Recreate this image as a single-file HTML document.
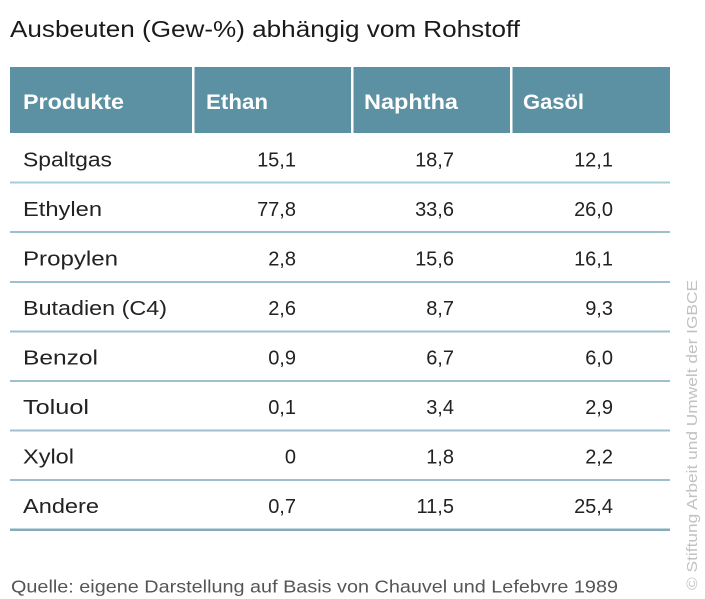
<!DOCTYPE html>
<html>
<head>
<meta charset="utf-8">
<style>
  html,body{margin:0;padding:0;background:#fff;}
  svg{display:block;}
  text{font-family:"Liberation Sans", sans-serif;}
</style>
</head>
<body>
<svg width="705" height="599" viewBox="0 0 705 599" xmlns="http://www.w3.org/2000/svg">
  <rect x="0" y="0" width="705" height="599" fill="#ffffff"/>
  <!-- Title -->
  <text x="10" y="37" font-size="23.5" fill="#1a1a1a" textLength="510" lengthAdjust="spacingAndGlyphs">Ausbeuten (Gew-%) abhängig vom Rohstoff</text>

  <!-- Header -->
  <rect x="10" y="67" width="660" height="66" fill="#5b91a3"/>
  <rect x="192" y="67" width="2.5" height="66" fill="#ffffff"/>
  <rect x="351" y="67" width="2.5" height="66" fill="#ffffff"/>
  <rect x="510" y="67" width="2.5" height="66" fill="#ffffff"/>
  <g font-size="21" font-weight="bold" fill="#ffffff">
    <text x="23" y="109" textLength="101" lengthAdjust="spacingAndGlyphs">Produkte</text>
    <text x="206" y="109" textLength="62" lengthAdjust="spacingAndGlyphs">Ethan</text>
    <text x="364" y="109" textLength="94" lengthAdjust="spacingAndGlyphs">Naphtha</text>
    <text x="523" y="109" textLength="61" lengthAdjust="spacingAndGlyphs">Gasöl</text>
  </g>

  <!-- Row lines -->
  <g fill="#9cc0cd">
    <rect x="10" y="181.5" width="660" height="2" fill="#a9cedb"/>
    <rect x="10" y="231" width="660" height="2"/>
    <rect x="10" y="281" width="660" height="2"/>
    <rect x="10" y="330.5" width="660" height="2"/>
    <rect x="10" y="380" width="660" height="2"/>
    <rect x="10" y="429.5" width="660" height="2"/>
    <rect x="10" y="479" width="660" height="2"/>
    <rect x="10" y="528.5" width="660" height="2.5" fill="#86acbb"/>
  </g>

  <!-- Labels -->
  <g font-size="20" fill="#222222">
    <text x="23" y="166.5" textLength="89" lengthAdjust="spacingAndGlyphs">Spaltgas</text>
    <text x="23" y="216" textLength="79" lengthAdjust="spacingAndGlyphs">Ethylen</text>
    <text x="23" y="265.5" textLength="95" lengthAdjust="spacingAndGlyphs">Propylen</text>
    <text x="23" y="315" textLength="144" lengthAdjust="spacingAndGlyphs">Butadien (C4)</text>
    <text x="23" y="364.5" textLength="75" lengthAdjust="spacingAndGlyphs">Benzol</text>
    <text x="23" y="414" textLength="66" lengthAdjust="spacingAndGlyphs">Toluol</text>
    <text x="23" y="463.5" textLength="51" lengthAdjust="spacingAndGlyphs">Xylol</text>
    <text x="23" y="513" textLength="76" lengthAdjust="spacingAndGlyphs">Andere</text>
  </g>

  <!-- Ethan -->
  <g font-size="20" fill="#222222" text-anchor="end">
    <text x="296" y="166.5">15,1</text>
    <text x="296" y="216">77,8</text>
    <text x="296" y="265.5">2,8</text>
    <text x="296" y="315">2,6</text>
    <text x="296" y="364.5">0,9</text>
    <text x="296" y="414">0,1</text>
    <text x="296" y="463.5">0</text>
    <text x="296" y="513">0,7</text>
  </g>
  <!-- Naphtha -->
  <g font-size="20" fill="#222222" text-anchor="end">
    <text x="454" y="166.5">18,7</text>
    <text x="454" y="216">33,6</text>
    <text x="454" y="265.5">15,6</text>
    <text x="454" y="315">8,7</text>
    <text x="454" y="364.5">6,7</text>
    <text x="454" y="414">3,4</text>
    <text x="454" y="463.5">1,8</text>
    <text x="454" y="513">11,5</text>
  </g>
  <!-- Gasöl -->
  <g font-size="20" fill="#222222" text-anchor="end">
    <text x="613" y="166.5">12,1</text>
    <text x="613" y="216">26,0</text>
    <text x="613" y="265.5">16,1</text>
    <text x="613" y="315">9,3</text>
    <text x="613" y="364.5">6,0</text>
    <text x="613" y="414">2,9</text>
    <text x="613" y="463.5">2,2</text>
    <text x="613" y="513">25,4</text>
  </g>

  <!-- Source -->
  <text x="11" y="592.5" font-size="17.5" fill="#555555" textLength="607" lengthAdjust="spacingAndGlyphs">Quelle: eigene Darstellung auf Basis von Chauvel und Lefebvre 1989</text>

  <!-- Copyright vertical -->
  <text x="0" y="0" transform="translate(697,590) rotate(-90)" font-size="15" fill="#c2c2c2" textLength="310" lengthAdjust="spacingAndGlyphs">© Stiftung Arbeit und Umwelt der IGBCE</text>
</svg>
</body>
</html>
